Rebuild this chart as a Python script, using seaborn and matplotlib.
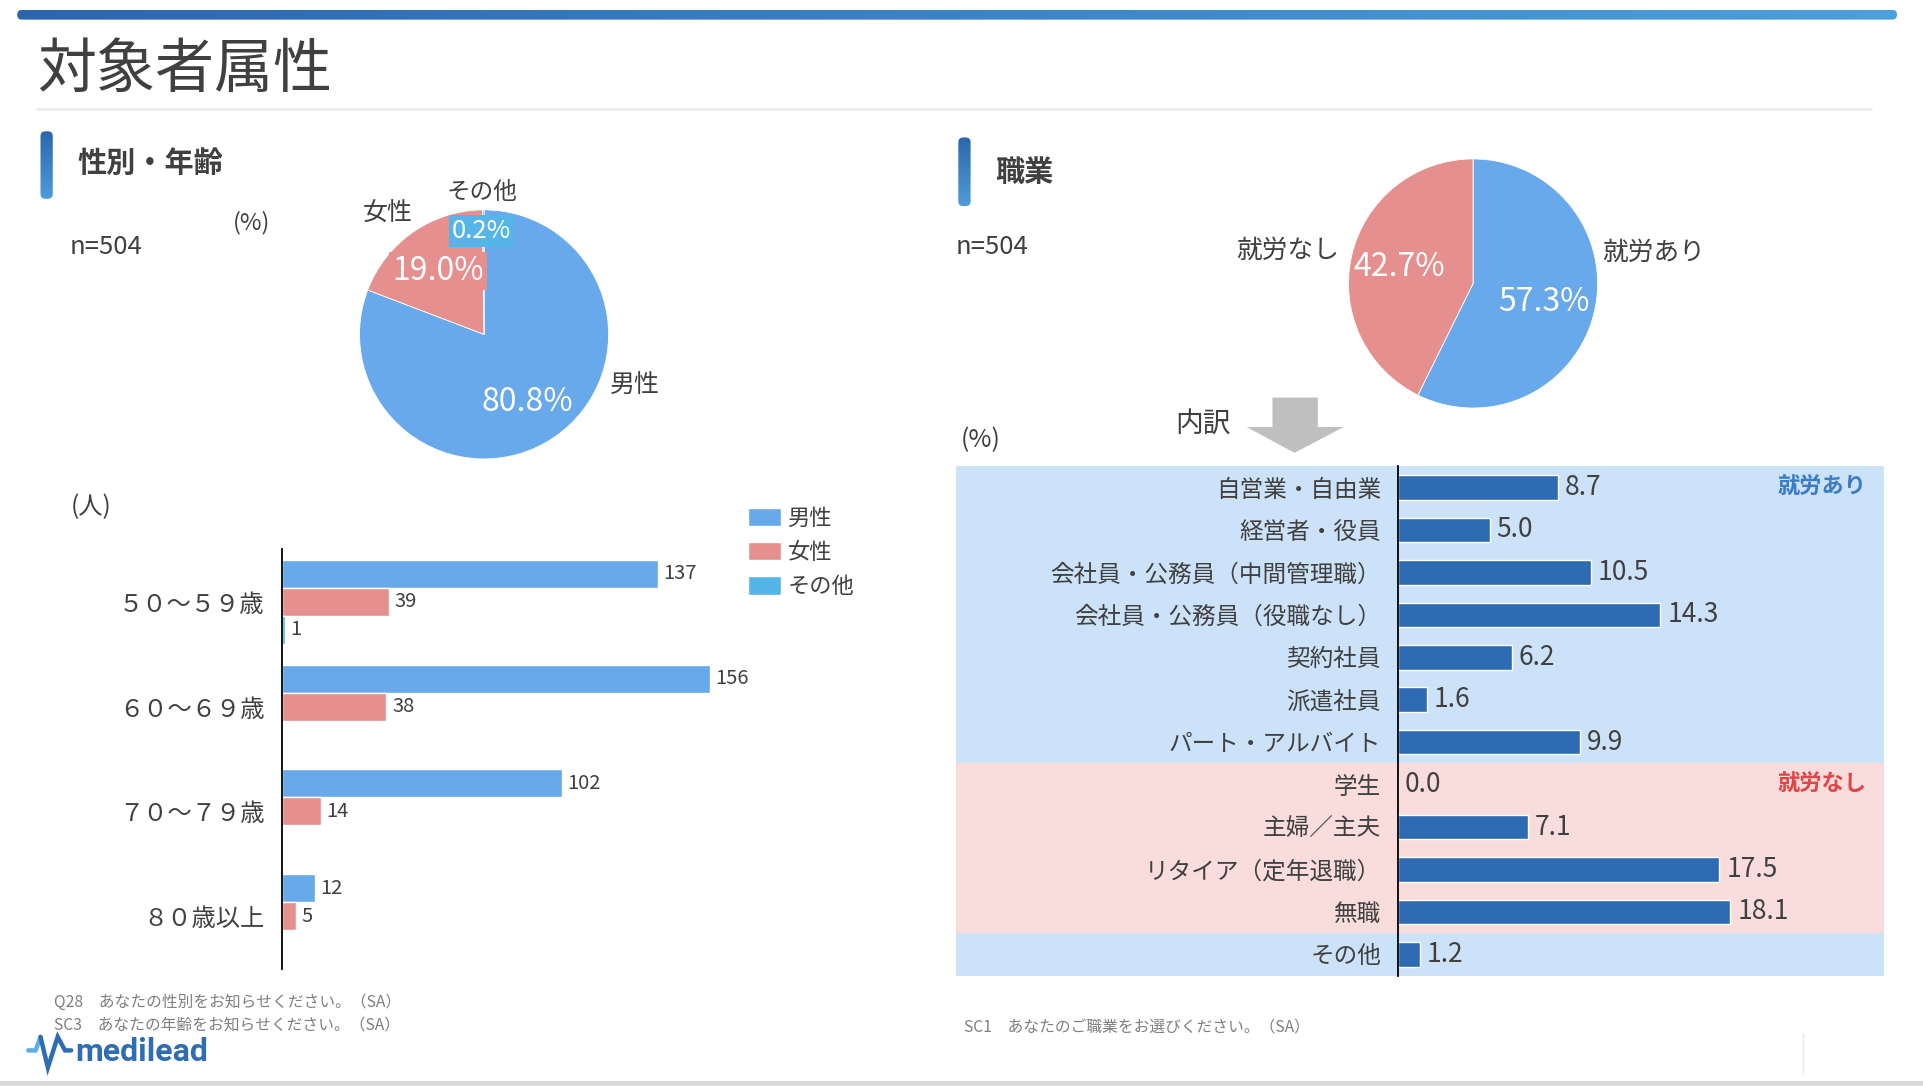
import numpy as np
import pandas as pd
import matplotlib
matplotlib.use("Agg")
import matplotlib.pyplot as plt
import matplotlib.transforms as mtransforms
import seaborn as sns
from matplotlib.patches import Rectangle, FancyBboxPatch, Polygon
from matplotlib.lines import Line2D
from matplotlib.colors import LinearSegmentedColormap

# ---- data ----
gender_labels = ["男性", "女性", "その他"]
gender_pct = [80.8, 19.0, 0.2]

age_groups = ["５０～５９歳", "６０～６９歳", "７０～７９歳", "８０歳以上"]
male_counts = [137, 156, 102, 12]
female_counts = [39, 38, 14, 5]
other_counts = [1, 0, 0, 0]

work_labels = ["就労あり", "就労なし"]
work_pct = [57.3, 42.7]

jobs = ["自営業・自由業", "経営者・役員", "会社員・公務員（中間管理職）",
        "会社員・公務員（役職なし）", "契約社員", "派遣社員", "パート・アルバイト",
        "学生", "主婦／主夫", "リタイア（定年退職）", "無職", "その他"]
job_pct = [8.7, 5.0, 10.5, 14.3, 6.2, 1.6, 9.9, 0.0, 7.1, 17.5, 18.1, 1.2]

# colours
BLUE = "#68A9EB"
PINK = "#E5908E"
OTHER = "#55B5E8"
DARK = "#2F6BB3"
BG_BLUE = "#CCE2F8"
BG_PINK = "#F9DCDC"
TXT = "#404040"

sns.set_theme(style="white")
plt.rcParams["font.family"] = ["Noto Sans CJK JP", "DejaVu Sans"]

fig = plt.figure(figsize=(19.24, 10.86), dpi=100)

# layout grid (slide units), converted to figure fractions
W, H = 1568, 885
def fx(x): return x / W
def fy(y): return 1 - y / H
def box(x0, y0, x1, y1): return [fx(x0), fy(y1), (x1 - x0) / W, (y1 - y0) / H]

def txt(x, y, s, size, **kw):
    kw.setdefault("color", TXT)
    kw.setdefault("va", "center")
    fig.text(fx(x), fy(y), s, fontsize=size, **kw)

def grad_bar(x0, y0, x1, y1, c0, c1, vertical=False, rad=4):
    ax = fig.add_axes(box(x0, y0, x1, y1))
    ax.axis("off")
    w, h = x1 - x0, y1 - y0
    g = np.linspace(0, 1, 256)
    img = g[:, None] if vertical else g[None, :]
    cmap = LinearSegmentedColormap.from_list("g", [c0, c1])
    im = ax.imshow(img, extent=[0, w, 0, h], aspect="auto", cmap=cmap)
    ax.set_xlim(0, w)
    ax.set_ylim(0, h)
    clip = FancyBboxPatch((0, 0), w, h, boxstyle=f"round,pad=0,rounding_size={rad}",
                          fc="none", ec="none", transform=ax.transData)
    ax.add_patch(clip)
    im.set_clip_path(clip)

# header
grad_bar(14, 8, 1546, 16, "#2C66AE", "#4CA0DC", rad=4)
txt(30, 57, "対象者属性", 42.5)
fig.add_artist(Line2D([fx(30), fx(1525)], [fy(89), fy(89)], color="#EBEBF0", lw=2))

grad_bar(33, 107, 43, 162, "#2C66AE", "#4D9CDB", vertical=True, rad=4)
txt(63, 133, "性別・年齢", 21, fontweight="bold")
grad_bar(781, 112, 791, 168, "#2C66AE", "#4D9CDB", vertical=True, rad=4)
txt(811, 140, "職業", 21, fontweight="bold")

txt(57, 201, "n=504", 18.5)
txt(779, 201, "n=504", 18.5)
txt(190, 181, "(%)", 17)
txt(783, 359, "(%)", 18)
txt(58, 413, "(人)", 17.5)
txt(958, 346, "内訳", 20)

# ---- pies ----
def pie_axes(cx, cy, r, k=1.7):
    ax = fig.add_axes(box(cx - k * r, cy - k * r, cx + k * r, cy + k * r))
    return ax

ax_p1 = pie_axes(394.5, 272.5, 101.5)
ax_p1.pie(gender_pct, colors=[BLUE, PINK, OTHER], startangle=90, counterclock=False,
          wedgeprops=dict(edgecolor="white", linewidth=0.6))
ax_p1.set_xlim(-1.7, 1.7)
ax_p1.set_ylim(-1.7, 1.7)
ax_p1.set_aspect("equal")
ax_p1.axis("off")
ax_p1.text(1.21, -0.41, gender_labels[0], ha="center", va="center", fontsize=18, color=TXT)
ax_p1.text(-0.77, 0.97, gender_labels[1], ha="center", va="center", fontsize=18, color=TXT)
ax_p1.text(-0.02, 1.14, gender_labels[2], ha="center", va="center", fontsize=17, color=TXT)
ax_p1.text(0.35, -0.54, f"{gender_pct[0]:.1f}%", ha="center", va="center", fontsize=23, color="white")
ax_p1.text(-0.37, 0.51, f"{gender_pct[1]:.1f}%", ha="center", va="center", fontsize=23, color="white",
           bbox=dict(boxstyle="square,pad=0.1", fc=PINK, ec="none"))
ax_p1.text(-0.02, 0.83, f"{gender_pct[2]:.1f}%", ha="center", va="center", fontsize=18.5, color="white",
           bbox=dict(boxstyle="square,pad=0.1", fc=OTHER, ec="none"))

ax_p2 = pie_axes(1200.5, 231, 101.5)
ax_p2.pie(work_pct, colors=[BLUE, PINK], startangle=90, counterclock=False,
          wedgeprops=dict(edgecolor="white", linewidth=0.6))
ax_p2.set_xlim(-1.7, 1.7)
ax_p2.set_ylim(-1.7, 1.7)
ax_p2.set_aspect("equal")
ax_p2.axis("off")
ax_p2.text(1.45, 0.25, work_labels[0], ha="center", va="center", fontsize=18.5, color=TXT)
ax_p2.text(-1.49, 0.26, work_labels[1], ha="center", va="center", fontsize=18.5, color=TXT)
ax_p2.text(0.57, -0.15, f"{work_pct[0]:.1f}%", ha="center", va="center", fontsize=23, color="white")
ax_p2.text(-0.59, 0.13, f"{work_pct[1]:.1f}%", ha="center", va="center", fontsize=23, color="white")

# arrow
arrow = [(1037, 324), (1074, 324), (1074, 348), (1095, 348), (1055, 369), (1016, 348), (1037, 348)]
fig.add_artist(Polygon([(fx(x), fy(y)) for x, y in arrow], closed=True,
                       transform=fig.transFigure, fc="#BFBFBF", ec="none"))

# ---- age / gender bars ----
df_age = pd.DataFrame({
    "age": age_groups * 3,
    "gender": ["男性"] * 4 + ["女性"] * 4 + ["その他"] * 4,
    "count": male_counts + female_counts + other_counts,
})
ax1 = fig.add_axes(box(230, 447.5, 677, 789.5))
sns.barplot(data=df_age, x="count", y="age", hue="gender", orient="h",
            palette=[BLUE, PINK, OTHER], saturation=1, width=0.8, ax=ax1)
ax1.set_xlim(0, 200)
ax1.set_ylim(3.5, -0.5)
ax1.set_facecolor("none")
ax1.set_xlabel("")
ax1.set_ylabel("")
ax1.set_xticks([])
ax1.tick_params(axis="y", length=0, pad=13, labelsize=17.5, labelcolor=TXT)
sns.despine(ax=ax1, bottom=True)
ax1.spines["left"].set_color("black")
ax1.spines["left"].set_linewidth(1.3)
for cont in ax1.containers:
    labs = [f"{v:g}" if v > 0 else "" for v in cont.datavalues]
    ax1.bar_label(cont, labels=labs, padding=4, fontsize=14.5, color=TXT)
h, l = ax1.get_legend_handles_labels()
ax1.legend(h, l, loc="upper left", bbox_to_anchor=(fx(610), fy(413)),
           bbox_transform=fig.transFigure, frameon=False, fontsize=16,
           handlelength=1.45, handleheight=0.9, handletextpad=0.3,
           labelspacing=0.5, borderpad=0, borderaxespad=0, labelcolor=TXT)

# ---- occupation bars ----
df_job = pd.DataFrame({"job": jobs, "pct": job_pct})
ax2 = fig.add_axes(box(1139, 380, 1535, 795))
sns.barplot(data=df_job, x="pct", y="job", color=DARK, saturation=1, width=0.58, ax=ax2)
ax2.set_xlim(0, 396 / 14.98)
ax2.set_ylim(11.5, -0.5)
ax2.set_facecolor("none")
ax2.set_xlabel("")
ax2.set_ylabel("")
ax2.set_xticks([])
ax2.tick_params(axis="y", length=0, pad=12, labelsize=17, labelcolor=TXT)
sns.despine(ax=ax2, bottom=True)
ax2.spines["left"].set_color("black")
ax2.spines["left"].set_linewidth(1.3)
ax2.bar_label(ax2.containers[0], labels=[f"{v:.1f}" for v in job_pct],
              padding=5, fontsize=19, color=TXT)

# background bands behind the occupation rows
band = mtransforms.blended_transform_factory(fig.transFigure, ax2.transData)
for y0, n, c in [(-0.5, 7, BG_BLUE), (6.5, 4, BG_PINK), (10.5, 1, BG_BLUE)]:
    fig.add_artist(Rectangle((fx(779), y0), fx(1535) - fx(779), n, transform=band,
                             fc=c, ec="none", zorder=-1))

tag = mtransforms.blended_transform_factory(ax2.transAxes, ax2.transData)
ax2.text((1521 - 1139) / 396, 0, "就労あり", transform=tag, ha="right", va="center",
         fontsize=16, fontweight="bold", color="#3B7DC4")
ax2.text((1521 - 1139) / 396, 7, "就労なし", transform=tag, ha="right", va="center",
         fontsize=16, fontweight="bold", color="#E04545")

# ---- footnotes / logo ----
txt(44, 817, "Q28　あなたの性別をお知らせください。（SA）", 11.3, color="#7F7F7F")
txt(44, 835, "SC3　あなたの年齢をお知らせください。（SA）", 11.3, color="#7F7F7F")
txt(786, 838, "SC1　あなたのご職業をお選びください。（SA）", 11.3, color="#7F7F7F")

fig.add_artist(Line2D([fx(23), fx(29), fx(33)], [fy(856), fy(856), fy(845)],
                      color="#5AB0E6", lw=3.2, solid_joinstyle="miter"))
fig.add_artist(Line2D([fx(33), fx(39), fx(47), fx(53), fx(58)],
                      [fy(845), fy(870), fy(845), fy(856), fy(856)],
                      color="#2E6DB4", lw=3.2, solid_joinstyle="miter"))
fig.text(fx(61), fy(865), "medilead", fontsize=23, fontweight="bold", color="#2E6DB4",
         family=["Roboto", "DejaVu Sans"], va="baseline")

fig.add_artist(Line2D([fx(1469), fx(1469)], [fy(843), fy(875)], color="#E8E8E8", lw=1))
fig.add_artist(Rectangle((0, 0), 1, 4 / H, transform=fig.transFigure, fc="#D9D9D9", ec="none"))

fig.savefig("out.png", dpi=100)
